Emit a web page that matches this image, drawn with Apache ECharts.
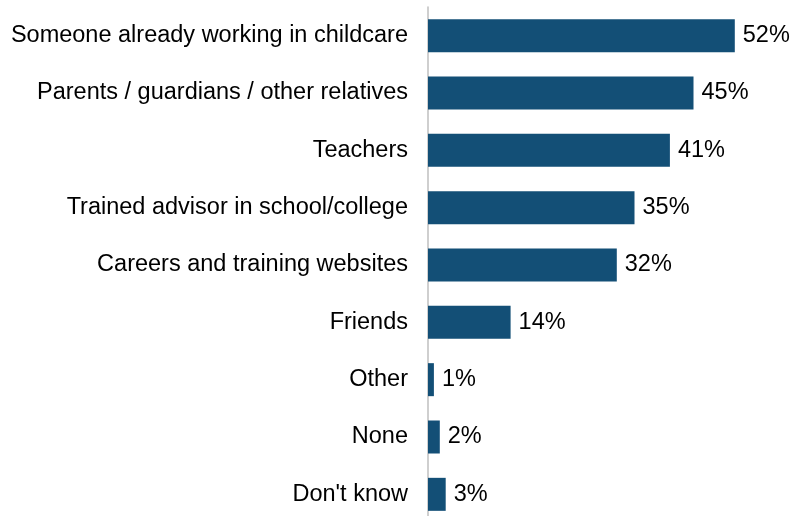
<!DOCTYPE html>
<html>
<head>
<meta charset="utf-8">
<script src="https://cdn.jsdelivr.net/npm/echarts@6/dist/echarts.min.js"></script>
<style>
  html, body { margin: 0; padding: 0; background: #ffffff; }
  #chart { width: 790px; height: 516px; }
</style>
</head>
<body>
<div id="chart"></div>
<script>
// Sources of careers information, listed top to bottom
const categories = [
  'Someone already working in childcare',
  'Parents / guardians / other relatives',
  'Teachers',
  'Trained advisor in school/college',
  'Careers and training websites',
  'Friends',
  'Other',
  'None',
  "Don't know"
];
// Share of respondents (%)
const values = [52, 45, 41, 35, 32, 14, 1, 2, 3];

const chart = echarts.init(document.getElementById('chart'), null, { renderer: 'canvas' });

chart.setOption({
  animation: false,
  backgroundColor: '#ffffff',
  grid: {
    left: 428, top: 7, width: 354, height: 516,
    containLabel: false,
    outerBoundsMode: 'none'
  },
  xAxis: {
    type: 'value',
    min: 0,
    max: 60,
    show: false
  },
  yAxis: {
    type: 'category',
    data: categories,
    inverse: true,
    axisLine: { show: true, lineStyle: { color: '#bfbfbf', width: 1.5 } },
    axisTick: { show: false },
    axisLabel: {
      margin: 20,
      color: '#000000',
      fontFamily: 'Liberation Sans, Arial, sans-serif',
      fontSize: 23.5
    }
  },
  series: [{
    type: 'bar',
    data: values,
    barWidth: 33,
    itemStyle: { color: '#134f76' },
    label: {
      show: true,
      position: 'right',
      distance: 8,
      formatter: p => p.value + '%',
      color: '#000000',
      fontFamily: 'Liberation Sans, Arial, sans-serif',
      fontSize: 23.5
    }
  }]
});
</script>
</body>
</html>
